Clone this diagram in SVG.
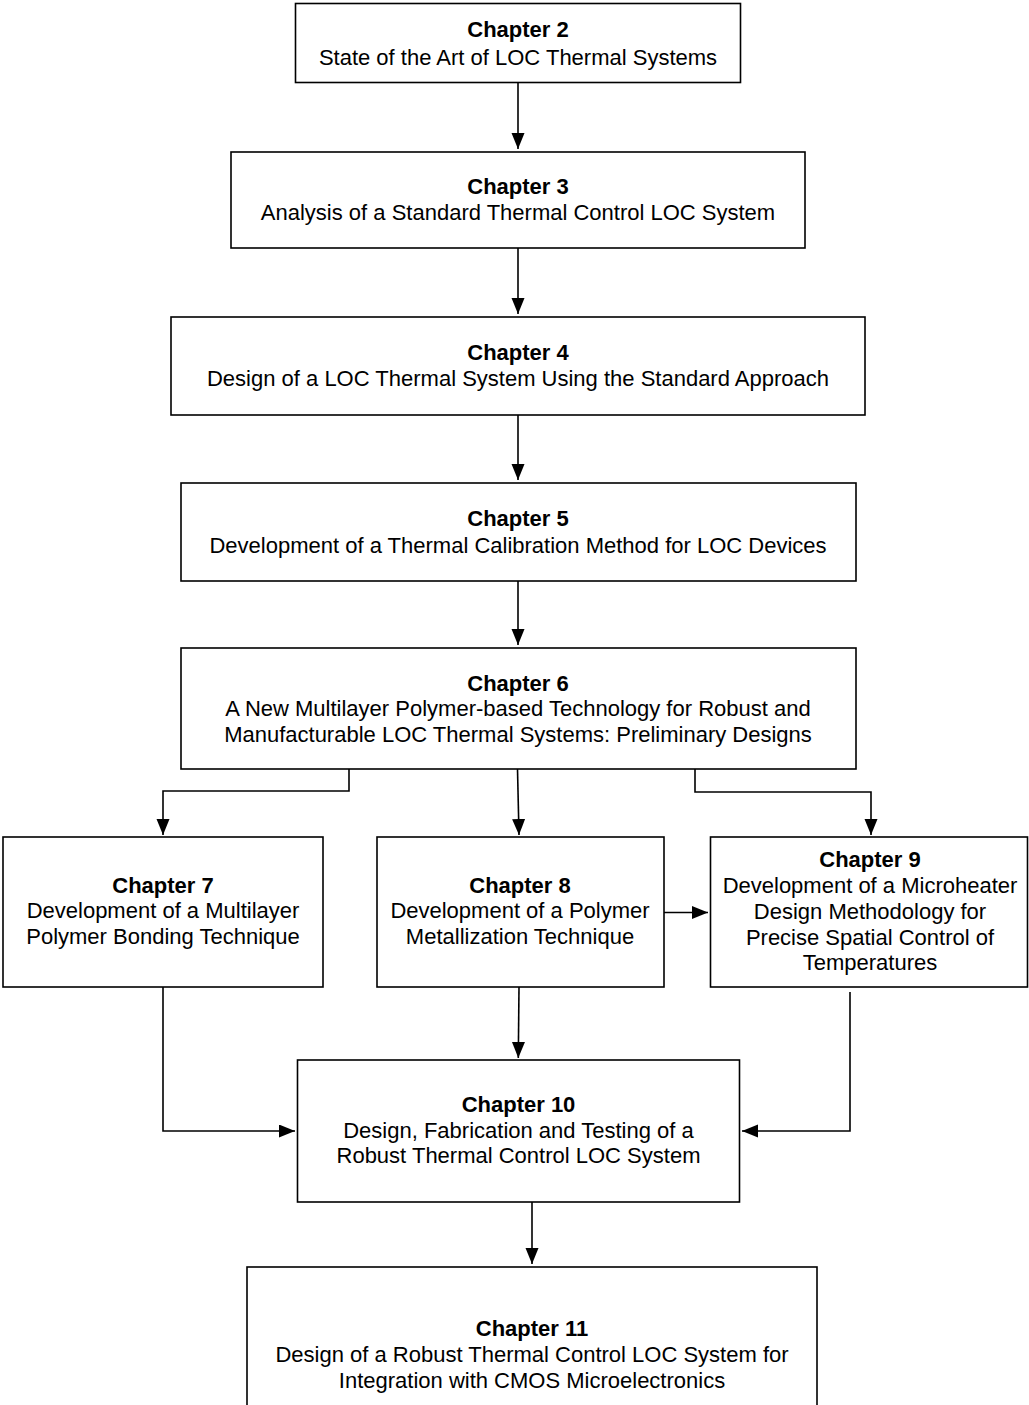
<svg xmlns="http://www.w3.org/2000/svg" width="1029" height="1405" viewBox="0 0 1029 1405">
<style>
.box{fill:#fff;stroke:#000;stroke-width:1.6}
.t{font-family:"Liberation Sans",Arial,Helvetica,sans-serif;font-size:22px;fill:#000;text-anchor:middle}
.b{font-weight:bold}
.c{fill:none;stroke:#000;stroke-width:1.6}
</style>
<defs>
<marker id="ah" markerUnits="userSpaceOnUse" markerWidth="17" markerHeight="14" refX="16" refY="6.5" orient="auto">
<path d="M0,0 L16,6.5 L0,13 z" fill="#000"/>
</marker>
</defs>
<rect width="1029" height="1405" fill="#fff"/>
<g id="connectors">
<path class="c" d="M518,83 V149" marker-end="url(#ah)"/>
<path class="c" d="M518,248 V314" marker-end="url(#ah)"/>
<path class="c" d="M518,415 V480" marker-end="url(#ah)"/>
<path class="c" d="M518,581 V645" marker-end="url(#ah)"/>
<path class="c" d="M349,769 V791 H163 V835" marker-end="url(#ah)"/>
<path class="c" d="M517.5,769 L519,835" marker-end="url(#ah)"/>
<path class="c" d="M695,769 V792 H871 V835" marker-end="url(#ah)"/>
<path class="c" d="M664,912.5 H708" marker-end="url(#ah)"/>
<path class="c" d="M163,987 V1131 H295" marker-end="url(#ah)"/>
<path class="c" d="M519,987 L518.3,1058" marker-end="url(#ah)"/>
<path class="c" d="M850,992 V1131 H742" marker-end="url(#ah)"/>
<path class="c" d="M532,1202 V1264" marker-end="url(#ah)"/>
</g>
<g id="ch2">
<rect class="box" x="295.5" y="3.5" width="445" height="79"/>
<text class="t b" x="518" y="37">Chapter 2</text>
<text class="t" x="518" y="65">State of the Art of LOC Thermal Systems</text>
</g>
<g id="ch3">
<rect class="box" x="231" y="152" width="574" height="96"/>
<text class="t b" x="518" y="194">Chapter 3</text>
<text class="t" x="518" y="220">Analysis of a Standard Thermal Control LOC System</text>
</g>
<g id="ch4">
<rect class="box" x="171" y="317" width="694" height="98"/>
<text class="t b" x="518" y="360">Chapter 4</text>
<text class="t" x="518" y="386">Design of a LOC Thermal System Using the Standard Approach</text>
</g>
<g id="ch5">
<rect class="box" x="181" y="483" width="675" height="98"/>
<text class="t b" x="518" y="526">Chapter 5</text>
<text class="t" x="518" y="553">Development of a Thermal Calibration Method for LOC Devices</text>
</g>
<g id="ch6">
<rect class="box" x="181" y="648" width="675" height="121"/>
<text class="t b" x="518" y="691">Chapter 6</text>
<text class="t" x="518" y="716">A New Multilayer Polymer-based Technology for Robust and</text>
<text class="t" x="518" y="742">Manufacturable LOC Thermal Systems: Preliminary Designs</text>
</g>
<g id="ch7">
<rect class="box" x="3" y="837" width="320" height="150"/>
<text class="t b" x="163" y="893">Chapter 7</text>
<text class="t" x="163" y="918">Development of a Multilayer</text>
<text class="t" x="163" y="944">Polymer Bonding Technique</text>
</g>
<g id="ch8">
<rect class="box" x="377" y="837" width="287" height="150"/>
<text class="t b" x="520" y="893">Chapter 8</text>
<text class="t" x="520" y="918">Development of a Polymer</text>
<text class="t" x="520" y="944">Metallization Technique</text>
</g>
<g id="ch9">
<rect class="box" x="710.5" y="837" width="317" height="150"/>
<text class="t b" x="870" y="867">Chapter 9</text>
<text class="t" x="870" y="893">Development of a Microheater</text>
<text class="t" x="870" y="919">Design Methodology for</text>
<text class="t" x="870" y="945">Precise Spatial Control of</text>
<text class="t" x="870" y="970">Temperatures</text>
</g>
<g id="ch10">
<rect class="box" x="297.5" y="1060" width="442" height="142"/>
<text class="t b" x="518.5" y="1112">Chapter 10</text>
<text class="t" x="518.5" y="1138">Design, Fabrication and Testing of a</text>
<text class="t" x="518.5" y="1163">Robust Thermal Control LOC System</text>
</g>
<g id="ch11">
<rect class="box" x="247" y="1267" width="570" height="160"/>
<text class="t b" x="532" y="1336">Chapter 11</text>
<text class="t" x="532" y="1362">Design of a Robust Thermal Control LOC System for</text>
<text class="t" x="532" y="1388">Integration with CMOS Microelectronics</text>
</g>
</svg>
